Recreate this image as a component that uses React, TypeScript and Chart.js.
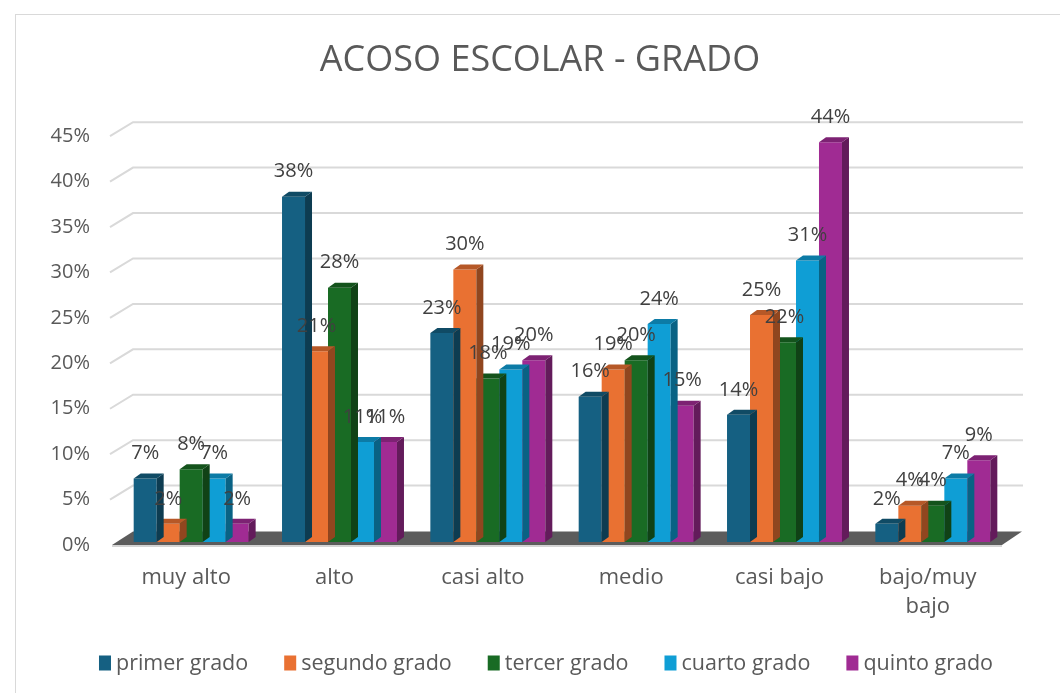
import React, { useEffect, useRef } from 'react';
import { Chart, registerables } from 'chart.js';

Chart.register(...registerables);

const chartTitle = 'ACOSO ESCOLAR - GRADO';
const categories: string[][] = [['muy alto'], ['alto'], ['casi alto'], ['medio'], ['casi bajo'], ['bajo/muy', 'bajo']];
const seriesNames = ['primer grado', 'segundo grado', 'tercer grado', 'cuarto grado', 'quinto grado'];
const primerGrado = [7, 38, 23, 16, 14, 2];
const segundoGrado = [2, 21, 30, 19, 25, 4];
const tercerGrado = [8, 28, 18, 20, 22, 4];
const cuartoGrado = [7, 11, 19, 24, 31, 7];
const quintoGrado = [2, 11, 20, 15, 44, 9];
const seriesColors = ['#156082', '#E97132', '#196B24', '#0F9ED5', '#A02B93'];
const yMax = 45;
const yStep = 5;

const FONT = "'Open Sans', 'Liberation Sans', sans-serif";
const TEXT = '#595959';

// 3D geometry (pixels)
const WALL_DX = 21, WALL_DY = -14;
const BAR_DX = 5, BAR_DY = -3;
const SIDE_DX = 7, SIDE_DY = -5;

function shade(hex: string, f: number): string {
  const n = parseInt(hex.slice(1), 16);
  const r = Math.round(((n >> 16) & 255) * f);
  const g = Math.round(((n >> 8) & 255) * f);
  const b = Math.round((n & 255) * f);
  return `rgb(${r},${g},${b})`;
}

const threeDPlugin = {
  id: 'threeD',
  beforeDatasetsDraw(chart: any) {
    const { ctx, chartArea, scales } = chart;
    const { left, right } = chartArea;
    const y = scales.y;
    ctx.save();
    ctx.strokeStyle = '#d9d9d9';
    ctx.lineWidth = 2;
    y.ticks.forEach((t: any) => {
      if (t.value === 0) return;
      const py = y.getPixelForValue(t.value);
      ctx.beginPath();
      ctx.moveTo(left - 2, py);
      ctx.lineTo(left + WALL_DX, py + WALL_DY);
      ctx.lineTo(right + WALL_DX, py + WALL_DY);
      ctx.stroke();
    });
    const y0 = y.getPixelForValue(0);
    ctx.fillStyle = '#5c5c5c';
    ctx.beginPath();
    ctx.moveTo(left, y0);
    ctx.lineTo(right, y0);
    ctx.lineTo(right + WALL_DX - 1, y0 + WALL_DY + 0.5);
    ctx.lineTo(left + WALL_DX, y0 + WALL_DY + 0.5);
    ctx.closePath();
    ctx.fill();
    ctx.fillStyle = '#d4d4d4';
    ctx.fillRect(left, y0, right - left, 2);
    ctx.restore();
  },
  beforeDatasetDraw(chart: any) {
    chart.ctx.save();
    chart.ctx.translate(BAR_DX, BAR_DY);
  },
  afterDatasetDraw(chart: any, args: any) {
    const ctx = chart.ctx;
    const color = seriesColors[args.index];
    args.meta.data.forEach((bar: any) => {
      const { x, y, base, width } = bar.getProps(['x', 'y', 'base', 'width'], true);
      const l = x - width / 2;
      const r = x + width / 2;
      ctx.fillStyle = shade(color, 0.62);
      ctx.beginPath();
      ctx.moveTo(r, y);
      ctx.lineTo(r + SIDE_DX, y + SIDE_DY);
      ctx.lineTo(r + SIDE_DX, base + SIDE_DY);
      ctx.lineTo(r, base);
      ctx.closePath();
      ctx.fill();
      ctx.fillStyle = shade(color, 0.78);
      ctx.beginPath();
      ctx.moveTo(l, y);
      ctx.lineTo(l + SIDE_DX, y + SIDE_DY);
      ctx.lineTo(r + SIDE_DX, y + SIDE_DY);
      ctx.lineTo(r, y);
      ctx.closePath();
      ctx.fill();
    });
    ctx.restore();
  },
  afterDatasetsDraw(chart: any) {
    const ctx = chart.ctx;
    ctx.save();
    ctx.font = `20px ${FONT}`;
    ctx.fillStyle = '#404040';
    ctx.textAlign = 'center';
    ctx.textBaseline = 'middle';
    chart.data.datasets.forEach((ds: any, i: number) => {
      const meta = chart.getDatasetMeta(i);
      meta.data.forEach((bar: any, j: number) => {
        const { x, y } = bar.getProps(['x', 'y'], true);
        ctx.fillText(`${ds.data[j]}%`, x + BAR_DX, y + BAR_DY - 25);
      });
    });
    ctx.restore();
  },
  afterDraw(chart: any) {
    const ctx = chart.ctx;
    ctx.save();
    ctx.font = `21.5px ${FONT}`;
    const boxW = 12, boxH = 15, gap = 5, itemGap = 36;
    const widths = seriesNames.map((s) => boxW + gap + ctx.measureText(s).width);
    const total = widths.reduce((a, b) => a + b, 0) + itemGap * (widths.length - 1);
    const cy = 663;
    let x = 546 - total / 2;
    ctx.textBaseline = 'middle';
    ctx.textAlign = 'left';
    seriesNames.forEach((s, i) => {
      ctx.fillStyle = seriesColors[i];
      ctx.fillRect(x, cy - boxH / 2, boxW, boxH);
      ctx.fillStyle = TEXT;
      ctx.fillText(s, x + boxW + gap, cy + 1);
      x += widths[i] + itemGap;
    });
    ctx.restore();
  },
};

export default function App() {
  const ref = useRef<HTMLCanvasElement>(null);
  useEffect(() => {
    document.body.style.margin = '0';
    document.body.style.overflow = 'hidden';
    const canvas = ref.current!;
    const series = [primerGrado, segundoGrado, tercerGrado, cuartoGrado, quintoGrado];
    const chart = new Chart(canvas, {
      type: 'bar',
      data: {
        labels: categories,
        datasets: series.map((d, i) => ({
          label: seriesNames[i],
          data: d,
          backgroundColor: seriesColors[i],
          borderWidth: 0,
          barPercentage: 1,
          categoryPercentage: 0.775,
          clip: false as any,
        })),
      },
      options: {
        responsive: false,
        animation: false,
        layout: { padding: { left: 20, right: 0, top: 14, bottom: 70 } },
        plugins: {
          legend: { display: false },
          tooltip: { enabled: false },
          title: {
            display: true,
            text: chartTitle,
            color: TEXT,
            font: { family: FONT, size: 36, weight: 'normal' },
            padding: { top: 25, bottom: 54 },
          },
        },
        scales: {
          x: {
            grid: { display: false, drawTicks: false },
            border: { display: false },
            ticks: {
              color: TEXT,
              font: { family: FONT, size: 22, lineHeight: 1.32 },
              padding: 18,
              maxRotation: 0,
              autoSkip: false,
            },
            afterFit: (s: any) => { s.height = 78; },
          },
          y: {
            min: 0,
            max: yMax,
            grid: { display: false, drawTicks: false },
            border: { display: false },
            ticks: {
              stepSize: yStep,
              color: TEXT,
              font: { family: FONT, size: 20 },
              padding: 22,
              callback: (v: any) => `${v}%`,
            },
            afterFit: (s: any) => { s.width = 92; },
          },
          yRight: {
            position: 'right',
            display: true,
            min: 0,
            max: yMax,
            grid: { display: false, drawTicks: false },
            border: { display: false },
            ticks: { display: false },
            afterFit: (s: any) => { s.width = 58; },
          },
        },
      },
      plugins: [threeDPlugin],
    });
    return () => chart.destroy();
  }, []);
  return (
    <div style={{ position: 'relative', width: 1060, height: 693, overflow: 'hidden', background: '#fff' }}>
      <div style={{ position: 'absolute', left: 15, top: 14, width: 1100, height: 800, border: '1px solid #d9d9d9', boxSizing: 'border-box' }} />
      <canvas ref={ref} width={1060} height={693} style={{ position: 'absolute', left: 0, top: 0, width: 1060, height: 693 }} />
    </div>
  );
}
